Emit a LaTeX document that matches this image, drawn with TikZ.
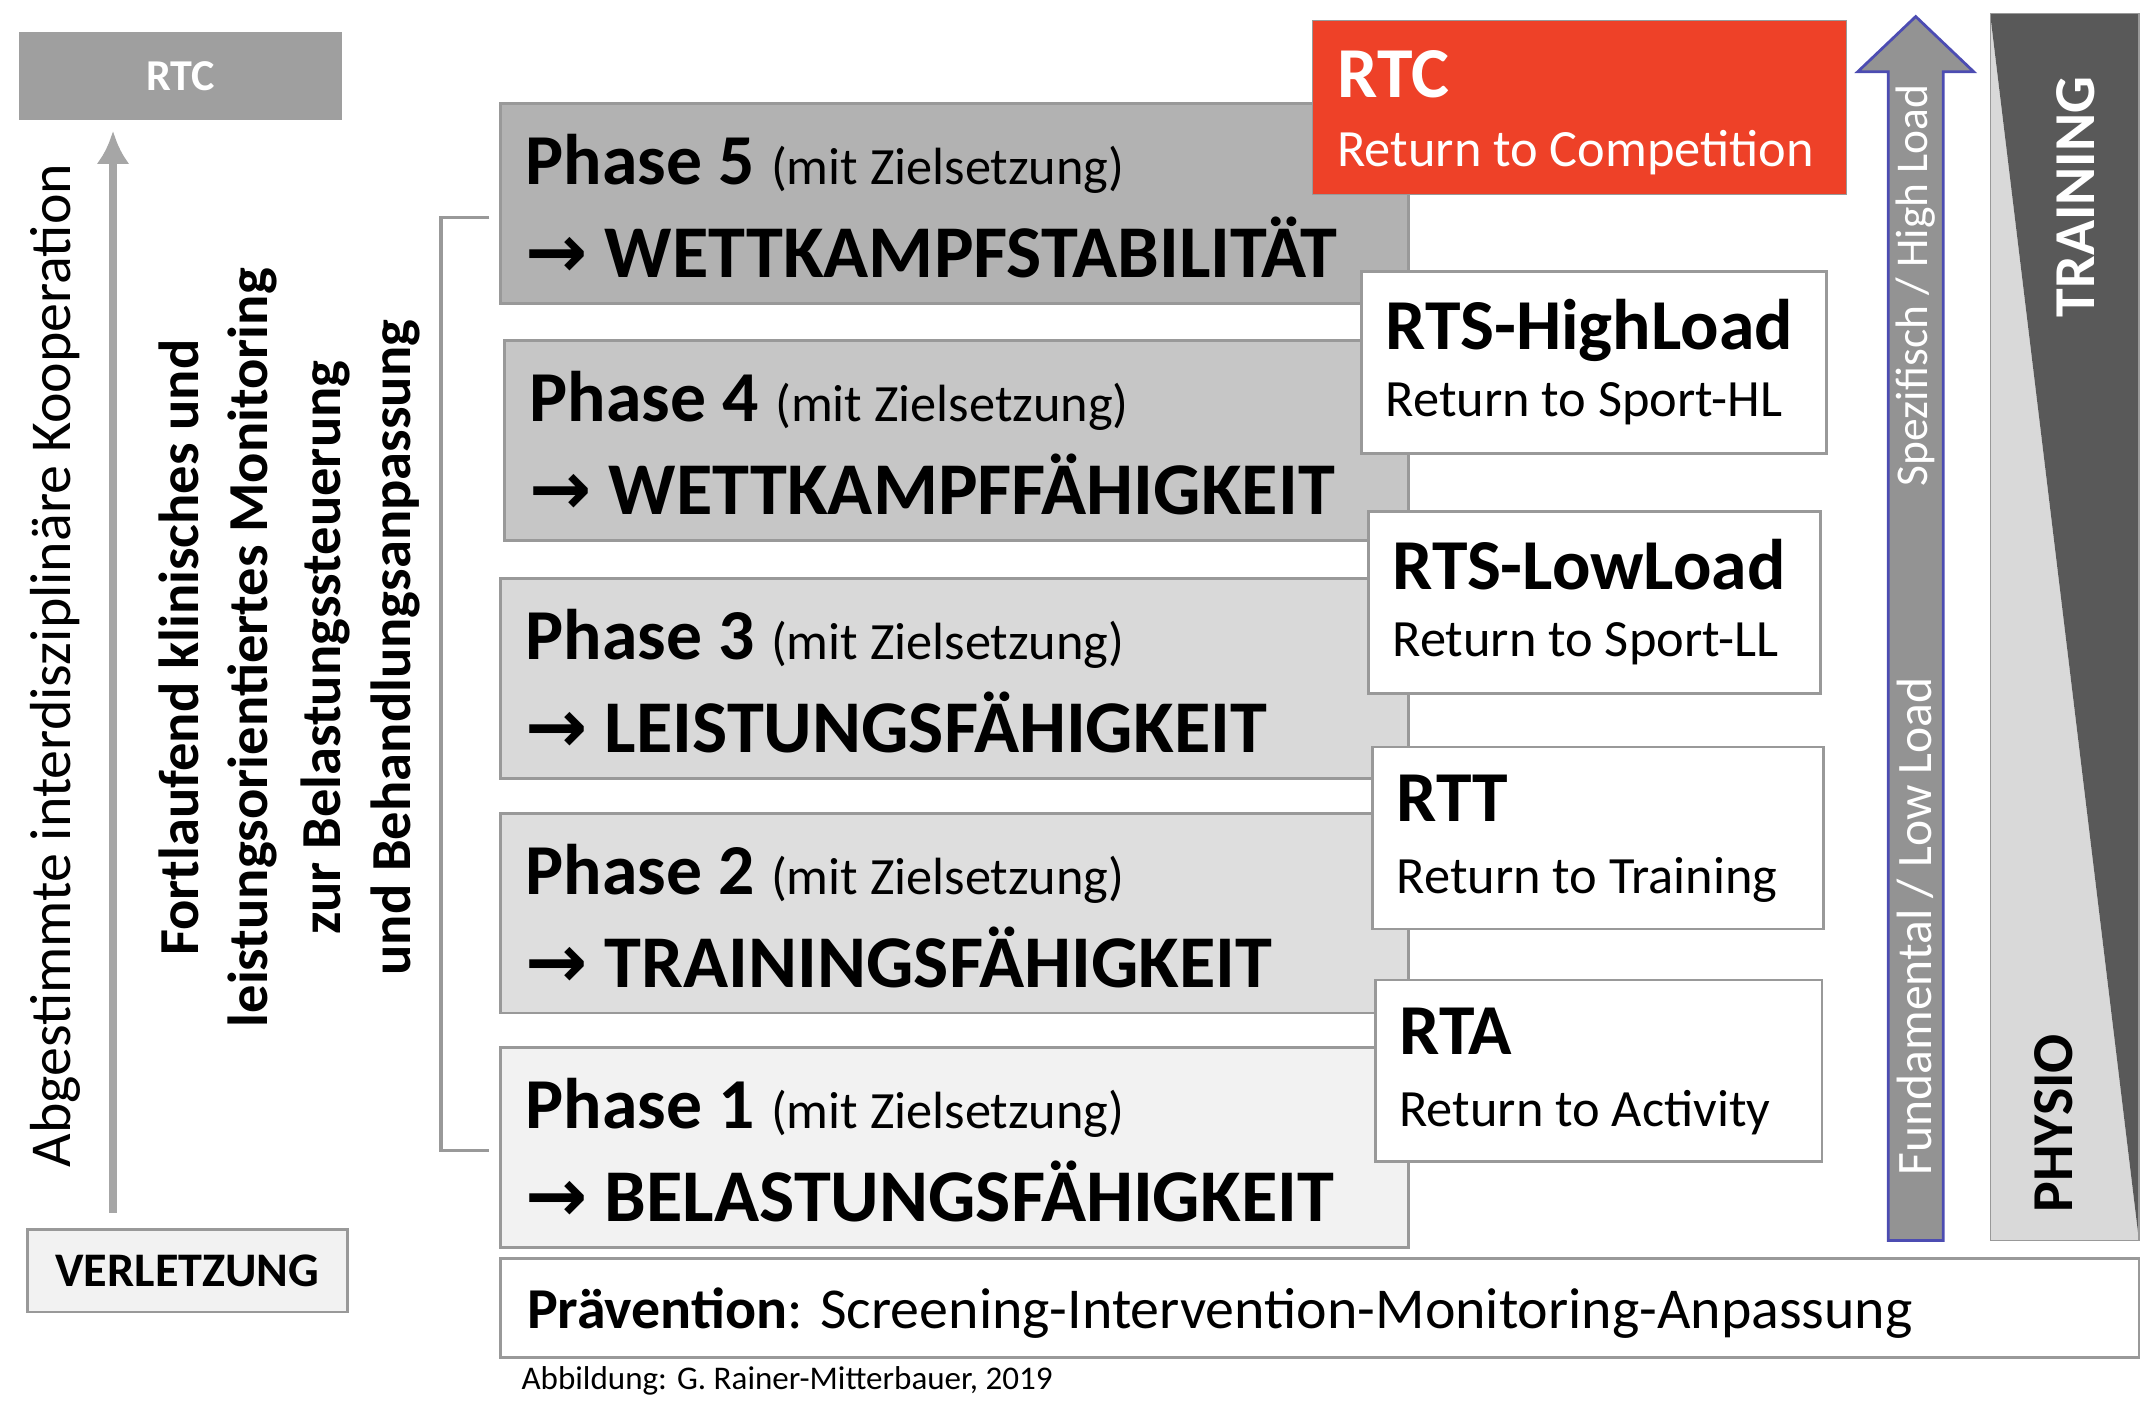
\documentclass[tikz,border=0pt]{standalone}
\usetikzlibrary{arrows.meta}
\usepackage{fontspec}
\setmainfont{Carlito}
\newfontfamily\dvs{DejaVu Sans}
\definecolor{rtcred}{RGB}{238,65,40}
\begin{document}
\begin{tikzpicture}[x=0.5pt,y=-0.5pt,
 bx/.style={draw=gray!80,line width=1pt},
 ph/.style={anchor=north west,align=left,inner sep=0pt},
 rbox/.style={bx,fill=white}]
\useasboundingbox (0,0) rectangle (1560,1020);
% left
\node[bx,fill=gray!75,draw=gray!75,minimum width=116pt,minimum height=31pt,text=white,font=\fontsize{16}{19}\selectfont\bfseries] (rtcl) at (131,55) {RTC};
\node[bx,fill=gray!10,minimum width=116pt,minimum height=30pt,font=\fontsize{17.5}{20}\selectfont\bfseries] (verl) at (136,922) {VERLETZUNG};
\coordinate (as) at (82,880); \coordinate (ae) at (82,95);
\draw[gray!70,line width=3pt,-{Latex[length=12pt,width=12pt]}] (as)--(ae);
\node[rotate=90,font=\fontsize{21}{24}\selectfont] (koop) at (40,483) {Abgestimmte interdisziplinäre Kooperation};
\foreach \t/\x in {Fortlaufend klinisches und/130,leistungsorientiertes Monitoring/183,zur Belastungssteuerung/236,und Behandlungsanpassung/287}
 \node[rotate=90,font=\fontsize{20.5}{24}\selectfont\bfseries] at (\x,470) {\t};
\draw[gray!80,line width=1.2pt] (355,158)--(320,158)--(320,835)--(355,835);
% phases
\foreach \n/\w/\y/\c/\xx in {5/WETTKAMPFSTABILITÄT/75/gray!60/363,4/WETTKAMPFFÄHIGKEIT/247/gray!45/366,3/LEISTUNGSFÄHIGKEIT/420/gray!30/363,2/TRAININGSFÄHIGKEIT/590/gray!26/363,1/BELASTUNGSFÄHIGKEIT/760/gray!10/363}{
 \draw[bx,fill=\c] (\xx,\y) rectangle (1022,\y+145);
 \node[ph] at (\xx+18,\y+22) {\fontsize{26}{30}\selectfont\bfseries Phase \n\ \fontsize{19}{22}\selectfont\mdseries(mit Zielsetzung)};
 \node[ph] at (\xx+18,\y+82) {\fontsize{27}{32}\selectfont\bfseries{\dvs\bfseries →} \w};
}
% right boxes
\node[draw=gray!80,fill=rtcred,minimum width=194pt,minimum height=63pt] (rtc) at (1146,78) {};
\node[ph,text=white] at (970,36) {\fontsize{26}{30}\selectfont\bfseries RTC};
\node[ph,text=white] at (970,94) {\fontsize{19}{22}\selectfont Return to Competition};
\foreach \a/\b/\y/\t/\s in {988/1325/197/RTS-HighLoad/Return to Sport-HL,993/1321/371/RTS-LowLoad/Return to Sport-LL,996/1323/542/RTT/Return to Training,998/1322/711/RTA/Return to Activity}{
 \draw[rbox] (\a,\y) rectangle (\b,\y+132);
 \node[ph] at (\a+17,\y+20) {\fontsize{26}{30}\selectfont\bfseries \t};
 \node[ph] at (\a+17,\y+80) {\fontsize{19}{22}\selectfont \s};
}
% big arrow
\draw[draw=blue!40!gray,fill=gray!85,line width=1pt] (1370,900)--(1370,52)--(1348,52)--(1390,12)--(1432,52)--(1410,52)--(1410,900)--cycle;
\node[rotate=90,text=white,font=\fontsize{18}{21}\selectfont] at (1390,672) {Fundamental / Low Load};
\node[rotate=90,text=white,font=\fontsize{16.5}{19}\selectfont] at (1390,207) {Spezifisch / High Load};
% triangle
\fill[gray!30] (1444,10)--(1444,900)--(1552,900)--cycle;
\fill[black!65] (1444,10)--(1552,10)--(1552,900)--cycle;
\draw[gray!80] (1444,10) rectangle (1552,900);
\node[rotate=90,text=white,font=\fontsize{21}{24}\selectfont\bfseries] at (1506,143) {TRAINING};
\node[rotate=90,font=\fontsize{21}{24}\selectfont\bfseries] at (1490,815) {PHYSIO};
% prevention
\draw[rbox] (363,913) rectangle (1552,985);
\node[anchor=west,inner sep=0pt] at (382,953) {\fontsize{21}{25}\selectfont\textbf{Prävention}: Screening-Intervention-Monitoring-Anpassung};
\node[anchor=west,inner sep=0pt] at (378,1002) {\fontsize{12}{14}\selectfont Abbildung: G. Rainer-Mitterbauer, 2019};
\end{tikzpicture}
\end{document}
